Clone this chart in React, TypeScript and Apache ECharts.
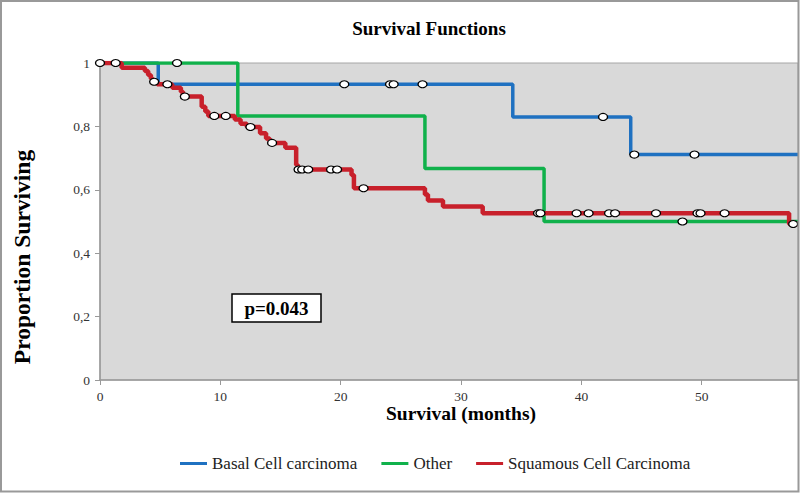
import React, { useEffect, useRef } from "react";
import * as echarts from "echarts";

const xTicks = [0, 10, 20, 30, 40, 50];
const yTicks = [0, 0.2, 0.4, 0.6, 0.8, 1];
const xMax = 58;

const seriesNames = ["Basal Cell carcinoma", "Other", "Squamous Cell Carcinoma"];
const seriesColors = ["#1f71c1", "#10b14b", "#c8202b"];

const basalTimes = [0, 4.84, 34.3, 44.1, 58];
const basalSurv = [1, 0.933, 0.83, 0.711, 0.711];
const basalCensor = [5.6, 20.3, 24.1, 24.4, 26.8, 41.8, 44.4, 49.4];

const otherTimes = [0, 11.45, 27.0, 36.9, 58];
const otherSurv = [1, 0.833, 0.667, 0.5, 0.5];
const otherCensor = [6.4, 48.4];

const squamousTimes = [0, 1.8, 3.73, 4.0, 4.23, 4.4, 4.75, 6.0, 6.72, 6.9, 8.45, 8.75, 9.0, 11.2, 11.68, 12.2, 13.3, 13.8, 14.1, 15.4, 16.3, 16.45, 20.9, 21.1, 27.0, 27.25, 28.5, 31.8, 57.26, 58];
const squamousSurv = [1, 0.985, 0.975, 0.962, 0.95, 0.941, 0.933, 0.922, 0.909, 0.894, 0.862, 0.847, 0.833, 0.822, 0.808, 0.798, 0.778, 0.762, 0.748, 0.733, 0.678, 0.664, 0.647, 0.605, 0.585, 0.566, 0.547, 0.526, 0.492, 0.492];
const squamousCensor = [0, 1.3, 4.5, 7.05, 9.5, 10.45, 12.5, 14.3, 16.5, 16.8, 17.3, 19.2, 19.7, 21.9, 36.4, 36.6, 39.6, 40.6, 42.3, 42.8, 46.2, 49.65, 49.9, 51.9, 57.6];

const pValueText = "p=0.043";

function survAt(times: number[], surv: number[], t: number) {
  let s = surv[0];
  for (let i = 0; i < times.length; i++) {
    if (times[i] <= t) s = surv[i];
  }
  return s;
}

export default function App() {
  const ref = useRef<HTMLDivElement>(null);
  useEffect(() => {
    document.body.style.margin = "0";
    const chart = echarts.init(ref.current!, null, { renderer: "svg" });
    const groups = [
      { times: basalTimes, surv: basalSurv, censor: basalCensor, width: 3.5 },
      { times: otherTimes, surv: otherSurv, censor: otherCensor, width: 3.5 },
      { times: squamousTimes, surv: squamousSurv, censor: squamousCensor, width: 4.5 },
    ];
    const lineSeries: any[] = groups.map((g, i) => ({
      name: seriesNames[i],
      type: "line",
      step: "end",
      symbol: "none",
      z: 2 + i,
      data: g.times.map((t, j) => [t, g.surv[j]]),
      lineStyle: { color: seriesColors[i], width: g.width },
      itemStyle: { color: seriesColors[i] },
    }));
    const censorSeries: any[] = groups.map((g, i) => ({
      name: seriesNames[i] + " censored",
      type: "scatter",
      symbol: "circle",
      symbolSize: [9, 7],
      z: 10,
      clip: false,
      data: g.censor.map((t) => [t, survAt(g.times, g.surv, t)]),
      itemStyle: { color: "#ffffff", borderColor: "#000000", borderWidth: 1.2, opacity: 1 },
    }));
    const serif = "Liberation Serif";
    chart.setOption({
      animation: false,
      textStyle: { fontFamily: serif },
      grid: {
        left: 100,
        right: 2,
        top: 63,
        bottom: 113,
        show: true,
        backgroundColor: "#d9d9d9",
        borderColor: "#a6a6a6",
        borderWidth: 1,
      },
      legend: {
        data: seriesNames,
        left: 175,
        top: 450,
        icon: "rect",
        itemWidth: 27,
        itemHeight: 3,
        itemGap: 24,
        textStyle: { fontFamily: serif, fontSize: 17, color: "#222" },
      },
      xAxis: {
        type: "value",
        min: 0,
        max: xMax,
        interval: 10,
        axisLine: { show: true, onZero: false, lineStyle: { color: "#999", width: 1.5 } },
        axisTick: { show: true, length: 5, customValues: xTicks, lineStyle: { color: "#999" } },
        axisLabel: { customValues: xTicks, fontFamily: serif, fontSize: 13.5, color: "#333", margin: 9 },
        splitLine: { show: false },
      },
      yAxis: {
        type: "value",
        min: 0,
        max: 1,
        interval: 0.2,
        axisLine: { show: true, lineStyle: { color: "#999", width: 1.5 } },
        axisTick: { show: true, length: 5, lineStyle: { color: "#999" } },
        axisLabel: {
          fontFamily: serif,
          fontSize: 13.5,
          color: "#333",
          margin: 10,
          formatter: (v: number) => (v === 0 || v === 1 ? String(v) : v.toFixed(1).replace(".", ",")),
        },
        splitLine: { show: false },
      },
      graphic: [
        {
          type: "rect",
          shape: { x: 1, y: 1, width: 797.5, height: 490.5 },
          style: { fill: "none", stroke: "#999", lineWidth: 2 },
          z: 100,
          silent: true,
        },
        {
          type: "text",
          x: 429,
          y: 28,
          style: {
            text: "Survival Functions",
            font: `bold 19px ${serif}`,
            fill: "#000",
            align: "center",
            verticalAlign: "middle",
          },
        },
        {
          type: "text",
          x: 461,
          y: 413,
          style: {
            text: "Survival (months)",
            font: `bold 19.5px ${serif}`,
            fill: "#000",
            align: "center",
            verticalAlign: "middle",
          },
        },
        {
          type: "text",
          x: 22,
          y: 257,
          rotation: Math.PI / 2,
          style: {
            text: "Proportion Surviving",
            font: `bold 23.5px ${serif}`,
            fill: "#000",
            align: "center",
            verticalAlign: "middle",
          },
        },
        {
          type: "group",
          z: 50,
          children: [
            {
              type: "rect",
              shape: { x: 232, y: 294, width: 89, height: 28 },
              style: { fill: "#ffffff", stroke: "#000", lineWidth: 1.5 },
            },
            {
              type: "text",
              x: 276.5,
              y: 308.5,
              style: {
                text: pValueText,
                font: `bold 19px ${serif}`,
                fill: "#000",
                align: "center",
                verticalAlign: "middle",
              },
            },
          ],
        },
      ],
      series: [...lineSeries, ...censorSeries],
    });
    return () => chart.dispose();
  }, []);
  return <div ref={ref} style={{ position: "absolute", left: 0, top: 0, width: 800, height: 493 }} />;
}
